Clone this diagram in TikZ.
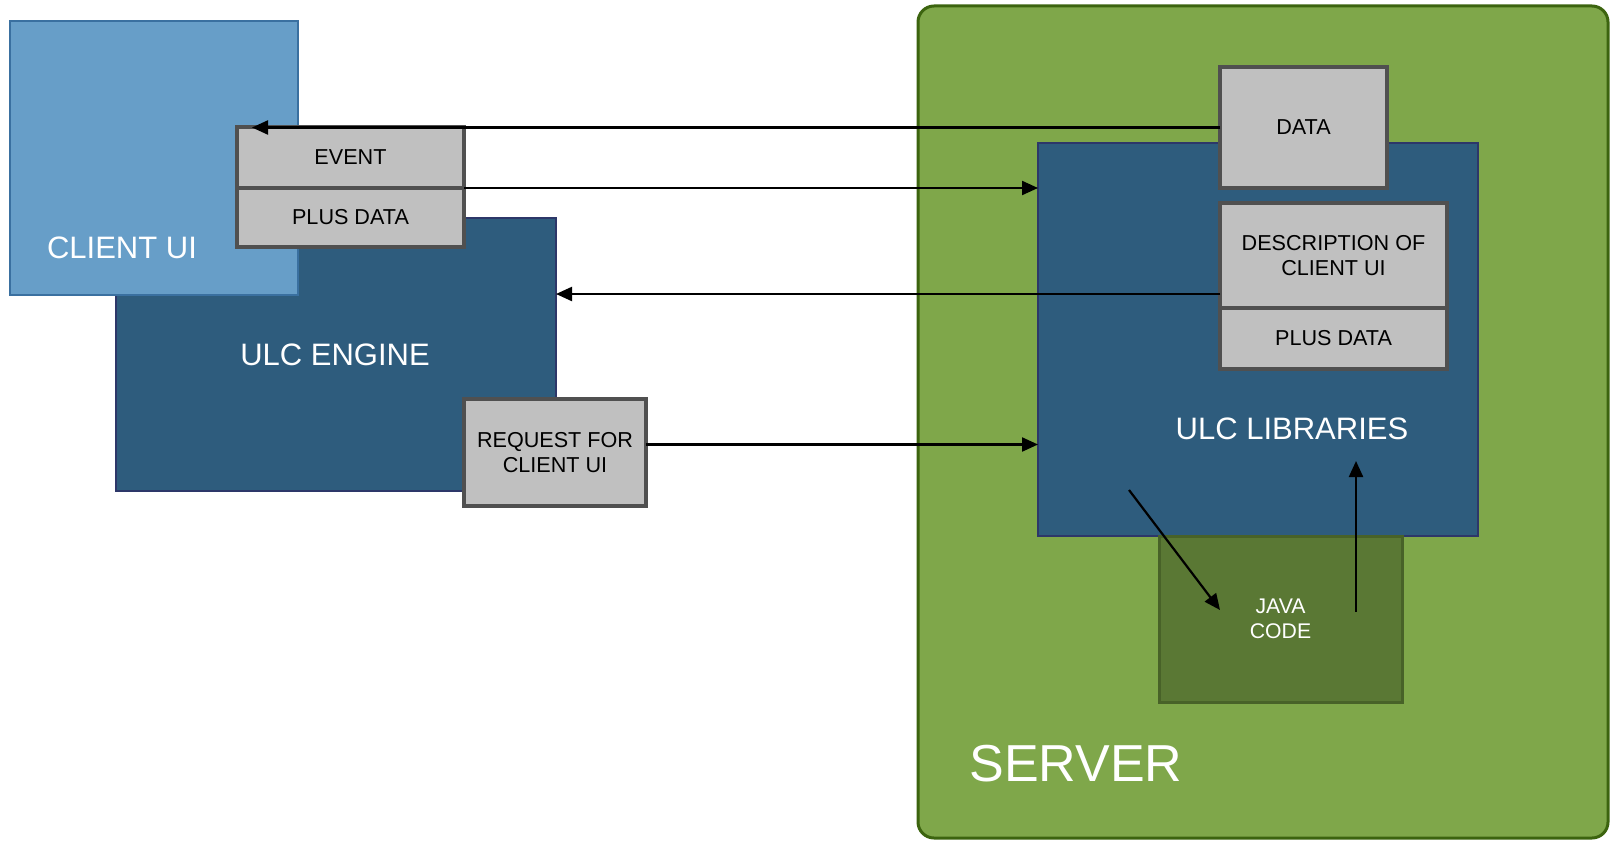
\documentclass[tikz,border=0pt]{standalone}
\usepackage{fontspec}
\setmainfont{Liberation Sans}
\usepackage{xcolor}
\usepackage{tikz}
\usetikzlibrary{calc}
\usetikzlibrary{positioning}
\usetikzlibrary{arrows.meta}

\definecolor{uiblue}{RGB}{103,158,200}
\definecolor{uiedge}{RGB}{58,112,160}
\definecolor{ulcnavy}{RGB}{46,92,125}
\definecolor{ulcedge}{RGB}{45,55,105}
\definecolor{boxgray}{RGB}{192,192,192}
\definecolor{boxedge}{RGB}{80,80,80}
\definecolor{srvgreen}{RGB}{127,167,74}
\definecolor{srvedge}{RGB}{60,100,15}
\definecolor{javagreen}{RGB}{90,120,52}
\definecolor{javaedge}{RGB}{72,98,40}

\tikzset{
	blk/.style={draw,anchor=north west,inner sep=0pt,outer sep=0pt},
	msg/.style={blk,fill=boxgray,draw=boxedge,line width=1.6pt,align=center,
		font=\fontsize{10.8}{12.8}\selectfont},
	big/.style={text=white,font=\fontsize{15.5}{18}\selectfont},
	arr/.style={-{Triangle[length=8pt,width=7pt]},line width=1.1pt},
}

\begin{document}
\begin{tikzpicture}[x=0.5pt,y=-0.5pt]
		\useasboundingbox (0,0) rectangle (1610,840);
		% server side
		\node[blk,fill=srvgreen,draw=srvedge,line width=1.5pt,rounded corners=8pt,
			minimum width=345pt,minimum height=416pt] (server) at (918,6) {};
		\node[blk,fill=ulcnavy,draw=ulcedge,line width=1.2pt,
			minimum width=220pt,minimum height=196.5pt] (libs) at (1038,143) {};
		\node[blk,fill=javagreen,draw=javaedge,line width=1.5pt,text=white,align=center,
			font=\fontsize{10.6}{12.8}\selectfont,
			minimum width=121.5pt,minimum height=83pt] (java) at (1159,536) {JAVA\\CODE};
		\node[msg,minimum width=83.5pt,minimum height=60.5pt] (data) at (1220,67) {DATA};
		\node[msg,minimum width=113.5pt,minimum height=52.5pt] (desc) at (1220,203) {DESCRIPTION OF\\CLIENT UI};
		\node[msg,minimum width=113.5pt,minimum height=30.5pt,below=0pt of desc] (plusr) {PLUS DATA};
		\node[big] (libstxt) at (1292,429) {ULC LIBRARIES};
		\node[text=white,font=\fontsize{26}{30}\selectfont] (srvtxt) at (1076,764) {SERVER};
		% client side
		\node[blk,fill=ulcnavy,draw=ulcedge,line width=1.2pt,
			minimum width=220pt,minimum height=136.5pt] (engine) at (116,218) {};
		\node[blk,fill=uiblue,draw=uiedge,line width=1.2pt,
			minimum width=144pt,minimum height=137pt] (client) at (10,21) {};
		\node[big] (clienttxt) at (122,248) {CLIENT UI};
		\node[big] (enginetxt) at (335,355) {ULC ENGINE};
		\node[msg,minimum width=113.5pt,minimum height=30.5pt] (event) at (237,127) {EVENT};
		\node[msg,minimum width=113.5pt,minimum height=29.5pt,below=0pt of event] (plusl) {PLUS DATA};
		\node[msg,minimum width=91pt,minimum height=53.5pt] (req) at (464,399) {REQUEST FOR\\CLIENT UI};
		% messages
		\coordinate (uitip) at (252,126);
		\coordinate (descout) at (1220,294);
		\coordinate (reqout) at ($(req.east)+(0,-8)$);
		\draw[arr] (data.west) -- (data.west -| uitip);
		\draw[arr] (event.south east) -- (event.south east -| libs.west);
		\draw[arr] (descout) -- (descout -| engine.east);
		\draw[arr] (reqout) -- (reqout -| libs.west);
		% call into java code and back
		\coordinate (callfrom) at (1129,490);
		\coordinate (callto) at (1220,610);
		\coordinate (retfrom) at (1356,612);
		\coordinate (retto) at (1356,461);
		\draw[arr] (callfrom) -- (callto);
		\draw[arr] (retfrom) -- (retto);
	\end{tikzpicture}
\end{document}
